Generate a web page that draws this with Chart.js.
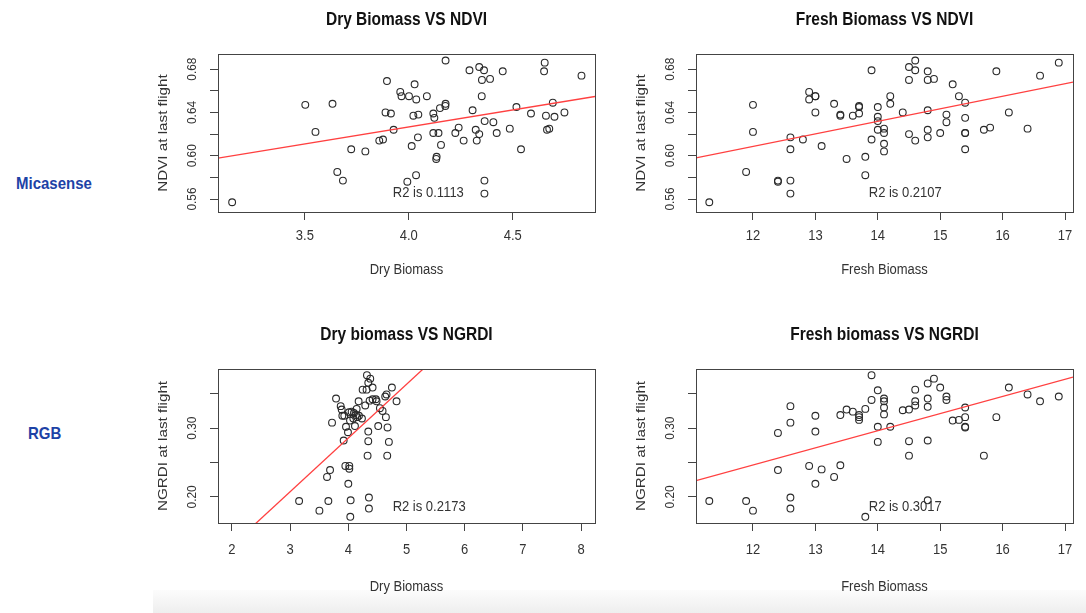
<!DOCTYPE html>
<html lang="en">
<head>
<meta charset="UTF-8">
<title>Biomass vs NDVI / NGRDI</title>
<script src="https://cdn.jsdelivr.net/npm/chart.js"></script>
<style>
  html, body { margin: 0; padding: 0; background: #fff; }
  body { width: 1086px; height: 613px; position: relative; overflow: hidden; font-family: "Liberation Sans", Arial, sans-serif; }
  canvas { position: absolute; }
  .row { position: absolute; color: #1d42a6; font-weight: bold; font-size: 15px; line-height: 18px; transform: scaleY(1.1); }
  .shade { position: absolute; left: 153px; top: 590px; width: 933px; height: 23px; background: linear-gradient(#fcfcfc, #eeeeee); }
</style>
</head>
<body>
<div class="shade"></div>
<div class="row" id="row0" style="left:16px;top:174px"></div>
<div class="row" id="row1" style="left:28px;top:424px"></div>
<canvas id="c0" width="470" height="300" style="left:140px;top:0px"></canvas>
<canvas id="c1" width="468" height="300" style="left:618px;top:0px"></canvas>
<canvas id="c2" width="470" height="308" style="left:140px;top:305px"></canvas>
<canvas id="c3" width="468" height="308" style="left:618px;top:305px"></canvas>
<script>
// --- data ---
const ndviDryX = [3.150,3.502,3.551,3.633,3.656,3.683,3.723,3.791,3.858,3.876,
  3.895,3.888,3.914,3.927,3.959,3.965,4.001,3.993,4.014,4.022,
  4.028,4.036,4.035,4.044,4.046,4.087,4.118,4.123,4.118,4.134,
  4.132,4.143,4.155,4.150,4.177,4.176,4.177,4.224,4.240,4.264,
  4.292,4.307,4.322,4.327,4.339,4.339,4.351,4.352,4.362,4.365,
  4.364,4.364,4.391,4.407,4.423,4.452,4.486,4.518,4.540,4.588,
  4.651,4.654,4.660,4.665,4.676,4.693,4.701,4.749,4.831];
const ndviDryY = [0.557,0.647,0.622,0.648,0.585,0.577,0.606,0.604,0.614,0.615,
  0.669,0.640,0.639,0.624,0.659,0.655,0.655,0.576,0.609,0.637,
  0.666,0.652,0.582,0.617,0.638,0.655,0.639,0.635,0.621,0.599,
  0.597,0.621,0.610,0.644,0.648,0.646,0.688,0.621,0.626,0.614,
  0.679,0.642,0.624,0.614,0.620,0.682,0.655,0.670,0.679,0.632,
  0.577,0.565,0.671,0.631,0.621,0.678,0.625,0.645,0.606,0.639,
  0.678,0.686,0.637,0.624,0.625,0.649,0.636,0.640,0.674];

const ndviFreshX = [11.30,11.89,12.00,12.00,12.40,12.40,12.60,12.60,12.60,12.60,
  12.80,12.90,12.90,13.00,13.00,13.00,13.10,13.30,13.40,13.40,
  13.50,13.60,13.70,13.70,13.70,13.80,13.80,13.90,13.90,14.00,
  14.00,14.00,14.00,14.10,14.10,14.10,14.10,14.20,14.20,14.40,
  14.50,14.50,14.50,14.60,14.60,14.60,14.80,14.80,14.80,14.80,
  14.80,14.90,15.00,15.10,15.10,15.20,15.30,15.40,15.40,15.40,
  15.40,15.40,15.70,15.80,15.90,16.10,16.40,16.60,16.90];
const ndviFreshY = [0.557,0.585,0.647,0.622,0.577,0.576,0.617,0.606,0.577,0.565,
  0.615,0.659,0.652,0.655,0.655,0.640,0.609,0.648,0.638,0.637,
  0.597,0.637,0.646,0.645,0.639,0.599,0.582,0.615,0.679,0.645,
  0.636,0.632,0.624,0.625,0.621,0.611,0.604,0.655,0.648,0.640,
  0.682,0.670,0.620,0.688,0.679,0.614,0.678,0.670,0.642,0.624,
  0.617,0.671,0.621,0.638,0.631,0.666,0.655,0.649,0.635,0.621,
  0.621,0.606,0.624,0.626,0.678,0.640,0.625,0.674,0.686];

const ngrdiDryX = [3.154,3.503,3.657,3.634,3.686,3.720,3.789,3.869,3.886,3.897,
  3.931,3.920,3.960,3.949,3.994,4.011,4.017,4.017,4.000,4.040,
  4.034,4.029,4.086,4.097,4.114,4.131,4.143,4.154,4.177,4.234,
  4.246,4.291,4.314,4.320,4.343,4.377,4.343,4.343,4.331,4.354,
  4.354,4.366,4.417,4.417,4.474,4.486,4.514,4.543,4.589,4.634,
  4.657,4.646,4.674,4.669,4.697,4.749,4.829,4.057,4.183];
const ngrdiDryY = [0.194,0.180,0.194,0.229,0.239,0.308,0.343,0.332,0.327,0.318,
  0.318,0.282,0.302,0.245,0.294,0.323,0.245,0.241,0.219,0.195,
  0.171,0.311,0.314,0.322,0.303,0.319,0.328,0.316,0.339,0.314,
  0.356,0.333,0.356,0.377,0.366,0.372,0.295,0.281,0.260,0.199,
  0.183,0.340,0.359,0.342,0.342,0.339,0.303,0.329,0.325,0.346,
  0.349,0.316,0.301,0.260,0.280,0.359,0.339,0.324,0.318];

const ngrdiFreshX = [11.30,11.89,12.00,12.40,12.40,12.60,12.60,12.60,12.60,12.90,
  13.00,13.00,13.00,13.10,13.30,13.40,13.40,13.50,13.60,13.70,
  13.70,13.70,13.80,13.80,13.90,13.90,14.00,14.00,14.00,14.10,
  14.10,14.10,14.10,14.20,14.40,14.50,14.50,14.50,14.60,14.60,
  14.60,14.80,14.80,14.80,14.80,14.80,14.90,15.00,15.10,15.10,
  15.20,15.30,15.40,15.40,15.40,15.40,15.70,15.90,16.10,16.40,
  16.60,16.90];
const ngrdiFreshY = [0.194,0.194,0.180,0.293,0.239,0.332,0.308,0.199,0.183,0.245,
  0.318,0.295,0.219,0.240,0.229,0.319,0.246,0.327,0.324,0.319,
  0.316,0.312,0.171,0.328,0.377,0.341,0.355,0.302,0.280,0.343,
  0.339,0.330,0.320,0.302,0.326,0.327,0.281,0.260,0.356,0.339,
  0.333,0.365,0.343,0.331,0.282,0.195,0.372,0.359,0.346,0.341,
  0.311,0.312,0.330,0.316,0.302,0.301,0.260,0.316,0.359,0.349,
  0.339,0.346];

const titles = ['Dry Biomass VS NDVI', 'Fresh Biomass VS NDVI', 'Dry biomass VS NGRDI', 'Fresh biomass VS NGRDI'];
const xTitles = ['Dry Biomass', 'Fresh Biomass', 'Dry Biomass', 'Fresh Biomass'];
const yTitles = ['NDVI at last flight', 'NDVI at last flight', 'NGRDI at last flight', 'NGRDI at last flight'];
const rowLabels = ['Micasense', 'RGB'];

// abline(lm(...)) coefficients and the R2 note
const fitIntercepts = [0.501, 0.4695, -0.0268, -0.0524];
const fitSlopes = [0.0314, 0.01159, 0.0781, 0.0249];
const r2Text = ['R2 is 0.1113', 'R2 is 0.2107', 'R2 is 0.2173', 'R2 is 0.3017'];
const r2X = [4.094, 14.44, 5.389, 14.44];
const r2Y = [0.566, 0.566, 0.186, 0.186];

// axes
const xLimits = [[3.082, 4.896], [11.087, 17.128], [1.76, 8.24], [11.087, 17.128]];
const yLimits = [[0.548, 0.694], [0.548, 0.694], [0.162, 0.386], [0.162, 0.386]];
const xTicksDryNdvi = [3.5, 4.0, 4.5];
const xTicksFresh = [12, 13, 14, 15, 16, 17];
const xTicksDryNgrdi = [2, 3, 4, 5, 6, 7, 8];
const yTicksNdvi = [0.56, 0.58, 0.60, 0.62, 0.64, 0.66, 0.68];
const yLabelsNdvi = [0.56, 0.60, 0.64, 0.68];
const yTicksNgrdi = [0.20, 0.25, 0.30, 0.35];
const yLabelsNgrdi = [0.20, 0.30];

document.getElementById('row0').textContent = rowLabels[0];
document.getElementById('row1').textContent = rowLabels[1];

// --- layout (page pixels) ---
const layouts = [
  { left: 140, top: 0,   w: 470, h: 300, area: { l: 218, t: 54,  r: 595,  b: 212 }, tickGap: 24, xTitleGap: 58 },
  { left: 618, top: 0,   w: 468, h: 300, area: { l: 696, t: 54,  r: 1073, b: 212 }, tickGap: 24, xTitleGap: 58 },
  { left: 140, top: 305, w: 470, h: 308, area: { l: 218, t: 369, r: 595,  b: 523 }, tickGap: 27, xTitleGap: 64 },
  { left: 618, top: 305, w: 468, h: 308, area: { l: 696, t: 369, r: 1073, b: 523 }, tickGap: 27, xTitleGap: 64 }
];

const panels = [
  { xs: ndviDryX, ys: ndviDryY, xTicks: xTicksDryNdvi, xDigits: 1, yTicks: yTicksNdvi, yLabels: yLabelsNdvi },
  { xs: ndviFreshX, ys: ndviFreshY, xTicks: xTicksFresh, xDigits: 0, yTicks: yTicksNdvi, yLabels: yLabelsNdvi },
  { xs: ngrdiDryX, ys: ngrdiDryY, xTicks: xTicksDryNgrdi, xDigits: 0, yTicks: yTicksNgrdi, yLabels: yLabelsNgrdi },
  { xs: ngrdiFreshX, ys: ngrdiFreshY, xTicks: xTicksFresh, xDigits: 0, yTicks: yTicksNgrdi, yLabels: yLabelsNgrdi }
];

const FONT = '"Liberation Sans", Arial, sans-serif';
const INK = '#333';

// text centred at (x, y); rot = -90 for R's vertical labels, stretch along screen y
function putText(ctx, str, x, y, rot, stretch) {
  ctx.save();
  ctx.translate(x, y);
  if (rot) {
    ctx.rotate(-Math.PI / 2);
    ctx.scale(stretch, 1);
  } else {
    ctx.scale(1, stretch);
  }
  ctx.fillText(str, 0, 0);
  ctx.restore();
}

// draws the R style frame, titles, tick labels and R2 note
function rDecor(i) {
  return {
    id: 'rDecor' + i,
    afterDatasetsDraw(chart) {
      const ctx = chart.ctx;
      const a = chart.chartArea;
      const xs = chart.scales.x, ys = chart.scales.y;
      const lay = layouts[i], p = panels[i];
      const cx = (a.left + a.right) / 2;
      ctx.save();
      ctx.strokeStyle = '#444';
      ctx.lineWidth = 1;
      ctx.strokeRect(Math.round(a.left) + 0.5, Math.round(a.top) + 0.5,
        Math.round(a.right - a.left), Math.round(a.bottom - a.top));

      ctx.fillStyle = '#111';
      ctx.textAlign = 'center';
      ctx.textBaseline = 'middle';
      ctx.font = 'bold 15.5px ' + FONT;
      putText(ctx, titles[i], cx, a.top - 34, false, 1.15);

      ctx.fillStyle = INK;
      ctx.font = '13px ' + FONT;
      p.xTicks.forEach(v => {
        putText(ctx, v.toFixed(p.xDigits), xs.getPixelForValue(v), a.bottom + lay.tickGap, false, 1.15);
      });
      putText(ctx, xTitles[i], cx, a.bottom + lay.xTitleGap, false, 1.15);

      ctx.font = '12.5px ' + FONT;
      p.yLabels.forEach(v => {
        putText(ctx, v.toFixed(2), a.left - 25, ys.getPixelForValue(v), true, 0.95);
      });
      ctx.font = '13px ' + FONT;
      putText(ctx, yTitles[i], a.left - 55, (a.top + a.bottom) / 2, true, 1.17);

      putText(ctx, r2Text[i], xs.getPixelForValue(r2X[i]), ys.getPixelForValue(r2Y[i]), false, 1.15);
      ctx.restore();
    }
  };
}

panels.forEach((p, i) => {
  const lay = layouts[i];
  const padding = {
    left: 0,
    top: lay.area.t - lay.top,
    right: lay.left + lay.w - lay.area.r,
    bottom: 0
  };
  const yWidth = lay.area.l - lay.left;
  const xHeight = lay.top + lay.h - lay.area.b;
  const [x0, x1] = xLimits[i];
  const points = p.xs.map((x, k) => ({ x: x, y: p.ys[k] }));
  const fitLine = [
    { x: x0, y: fitIntercepts[i] + fitSlopes[i] * x0 },
    { x: x1, y: fitIntercepts[i] + fitSlopes[i] * x1 }
  ];

  new Chart(document.getElementById('c' + i).getContext('2d'), {
    type: 'scatter',
    data: {
      datasets: [
        {
          data: fitLine,
          showLine: true,
          borderColor: '#ff4040',
          borderWidth: 1.3,
          pointRadius: 0,
          fill: false
        },
        {
          data: points,
          pointStyle: 'circle',
          pointRadius: 3.4,
          pointBorderWidth: 1.1,
          pointBorderColor: '#2a2a2a',
          pointBackgroundColor: 'rgba(0,0,0,0)'
        }
      ]
    },
    options: {
      responsive: false,
      animation: false,
      events: [],
      layout: { padding: padding },
      plugins: { legend: { display: false }, tooltip: { enabled: false }, title: { display: false } },
      scales: {
        x: {
          type: 'linear',
          min: x0,
          max: x1,
          afterBuildTicks: s => { s.ticks = p.xTicks.map(v => ({ value: v })); },
          afterFit: s => { s.height = xHeight; },
          ticks: { display: false },
          border: { display: false },
          grid: { drawOnChartArea: false, drawTicks: true, tickLength: 8, color: '#444', lineWidth: 1 }
        },
        y: {
          type: 'linear',
          min: yLimits[i][0],
          max: yLimits[i][1],
          afterBuildTicks: s => { s.ticks = p.yTicks.map(v => ({ value: v })); },
          afterFit: s => { s.width = yWidth; },
          ticks: { display: false },
          border: { display: false },
          grid: { drawOnChartArea: false, drawTicks: true, tickLength: 8, color: '#444', lineWidth: 1 }
        }
      }
    },
    plugins: [rDecor(i)]
  });
});
</script>
</body>
</html>
